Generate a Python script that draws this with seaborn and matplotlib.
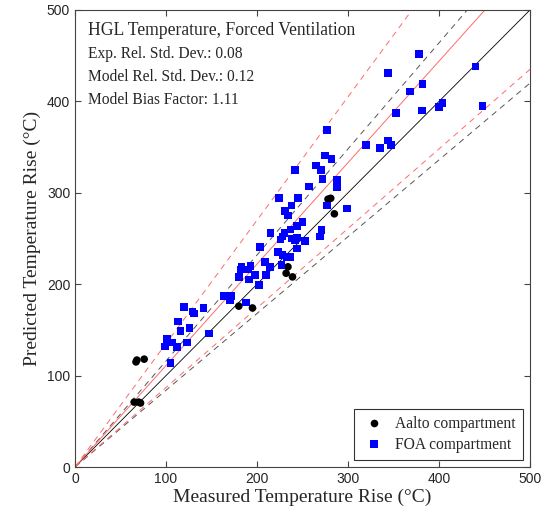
import numpy as np
import pandas as pd
import matplotlib
matplotlib.use("Agg")
import matplotlib.pyplot as plt
import seaborn as sns

# ---- data ----
aalto_measured = [67, 68, 76, 65, 70, 72, 180, 195, 234, 232, 239, 278, 281, 285]
aalto_predicted = [115, 117, 118, 71, 71, 70, 176, 174, 219, 212, 208, 293, 294, 277]

foa_measured = [99, 101, 105, 107, 112, 113, 116, 120, 123, 126, 129, 131, 141, 147,
                164, 170, 172, 180, 182, 183, 188, 190, 191, 193, 198, 202, 203, 209,
                210, 214, 215, 223, 224, 226, 227, 228, 228, 230, 231, 233, 234, 237,
                237, 238, 238, 242, 242, 244, 244, 244, 245, 250, 253, 257, 265, 269,
                271, 270, 272, 275, 277, 277, 282, 288, 288, 299,
                320, 335, 344, 344, 347, 353, 368, 378, 381, 382, 400, 404, 440, 448]
foa_predicted = [132, 140, 114, 136, 131, 159, 149, 175, 136, 152, 170, 168, 174, 146,
                 187, 183, 187, 208, 216, 219, 180, 216, 205, 220, 210, 199, 241, 224,
                 210, 219, 256, 235, 294, 249, 221, 252, 232, 256, 280, 230, 275, 230,
                 260, 286, 250, 248, 325, 264, 251, 239, 294, 268, 247, 307, 330, 252,
                 259, 325, 315, 341, 286, 369, 337, 314, 306, 283,
                 352, 349, 431, 357, 352, 387, 411, 452, 390, 419, 394, 398, 438, 395]

series_names = ["Aalto compartment", "FOA compartment"]
exp_rel_std = 0.08
model_rel_std = 0.12
model_bias = 1.11
axis_ticks = [0, 100, 200, 300, 400, 500]

df = pd.DataFrame({
    "Measured": aalto_measured + foa_measured,
    "Predicted": aalto_predicted + foa_predicted,
    "Series": [series_names[0]] * len(aalto_measured) + [series_names[1]] * len(foa_measured),
})

# ---- style ----
sns.set_style("ticks")
plt.rcParams["font.family"] = ["Liberation Serif", "DejaVu Serif"]

fig = plt.figure(figsize=(5.57, 5.15), dpi=100)
ax = fig.add_axes([0.1347, 0.0932, 0.8168, 0.8874])

lim = axis_ticks[-1]
xs = np.array([0, lim])
# reference lines
ax.plot(xs, xs, color="black", lw=0.6, zorder=1)
ax.plot(xs, xs * (1 + 2 * exp_rel_std), color="#555555", lw=0.7, ls=(0, (6, 5)), zorder=1)
ax.plot(xs, xs * (1 - 2 * exp_rel_std), color="#555555", lw=0.7, ls=(0, (6, 5)), zorder=1)
ax.plot(xs, xs * model_bias, color="#ff6a6a", lw=0.7, zorder=1)
ax.plot(xs, xs * (model_bias + 2 * model_rel_std), color="#ff6a6a", lw=0.7, ls=(0, (6, 5)), zorder=1)
ax.plot(xs, xs * (model_bias - 2 * model_rel_std), color="#ff6a6a", lw=0.7, ls=(0, (6, 5)), zorder=1)

sns.scatterplot(data=df, x="Measured", y="Predicted", hue="Series", style="Series",
                palette={series_names[0]: "black", series_names[1]: "blue"},
                markers={series_names[0]: "o", series_names[1]: "s"},
                s=30, linewidth=0, ax=ax, zorder=3, legend=True)

ax.set_xlim(0, lim)
ax.set_ylim(0, lim)
ax.set_xticks(axis_ticks)
ax.set_yticks(axis_ticks)
ax.tick_params(direction="in", top=True, right=True, length=4, width=0.8, color="#444444")
for lab in ax.get_xticklabels() + ax.get_yticklabels():
    lab.set_fontfamily(["Liberation Sans", "DejaVu Sans"])
    lab.set_fontsize(10)
for sp in ax.spines.values():
    sp.set_visible(True)
    sp.set_color("#444444")
    sp.set_linewidth(0.8)

ax.set_xlabel("Measured Temperature Rise (°C)", fontsize=14, labelpad=2)
ax.set_ylabel("Predicted Temperature Rise (°C)", fontsize=14, labelpad=4)

ax.text(0.029, 0.956, "HGL Temperature, Forced Ventilation", transform=ax.transAxes,
        fontsize=12.7, va="center", ha="left")
ax.text(0.029, 0.904, f"Exp. Rel. Std. Dev.: {exp_rel_std:.2f}", transform=ax.transAxes,
        fontsize=11.2, va="center", ha="left")
ax.text(0.029, 0.853, f"Model Rel. Std. Dev.: {model_rel_std:.2f}", transform=ax.transAxes,
        fontsize=11.2, va="center", ha="left")
ax.text(0.029, 0.802, f"Model Bias Factor: {model_bias:.2f}", transform=ax.transAxes,
        fontsize=11.2, va="center", ha="left")

leg = ax.legend(loc="lower right", frameon=True, fontsize=11.2, fancybox=False,
                edgecolor="black", borderpad=0.45, handletextpad=0.6, handlelength=1.6,
                labelspacing=0.3, borderaxespad=0.45)
leg.get_frame().set_linewidth(0.8)
leg.set_title(None)

fig.savefig("out.png", dpi=100)
